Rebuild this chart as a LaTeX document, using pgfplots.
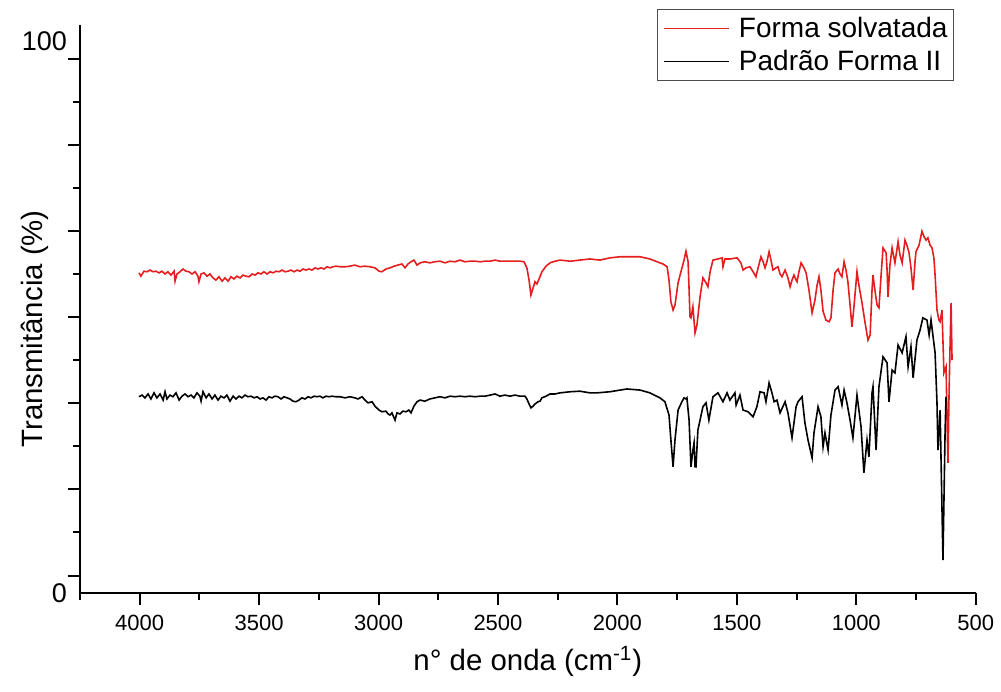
\documentclass[border=0pt]{standalone}
\usepackage{pgfplots}
\pgfplotsset{compat=1.18}
\usepackage{fontspec}
\setmainfont{Liberation Sans}
\definecolor{specred}{RGB}{228,30,30}
\begin{document}
\begin{tikzpicture}
\path[use as bounding box] (-40pt,-49pt) rectangle (460.5pt,296.5pt);
\begin{axis}[
 scale only axis, width=447.85pt, height=284pt,
 x dir=reverse, xmin=500, xmax=4250, ymin=0.67, ymax=102.92,
 axis x line*=bottom, axis y line*=left,
 axis line style={line width=1pt,-},
 tick align=outside,
 major tick length=6pt, minor tick length=3.5pt,
 tick style={black,line width=1pt},
 xtick={500,1000,...,4000},
 minor xtick={750,1250,...,4250},
 ytick={3.79,19.31,34.83,50.31,65.79,81.27,96.75},
 minor ytick={11.57,27.09,42.57,58.05,73.53,89.01},
 yticklabels={},
 extra y ticks={0.67,100},
 extra y tick labels={0,100\hspace{4pt}},
 extra y tick style={tick style={draw=none}, yticklabel style={font=\fontsize{13.5}{16}\selectfont, xshift=3pt}},
 xticklabel style={font=\fontsize{11}{13}\selectfont, yshift=-1.5pt},
 /pgf/number format/assume math mode=true,
 /pgf/number format/1000 sep={},
 xlabel={n° de onda (cm\textsuperscript{-1})},
 ylabel={Transmitância (\%)},
 xlabel style={at={(axis description cs:0.5,-0.1373)}, anchor=base, font=\fontsize{14.7}{17}\selectfont},
 ylabel style={at={(axis description cs:-0.0502,0.465)}, anchor=center, font=\fontsize{14.7}{17}\selectfont},
 legend style={at={(axis description cs:0.9758,1.0276)}, anchor=north east, draw=gray!60!black, line width=0.5pt,
   font=\fontsize{14}{16.8}\selectfont, inner xsep=3pt, inner ysep=3.5pt, row sep=5pt,
   nodes={inner sep=0pt}, column sep=4.6pt},
 legend cell align=left,
 legend image code/.code={\draw[#1, line width=0.6pt] (0pt,0pt) -- (32.5pt,0pt);},
]
\addplot[specred, line width=0.8pt] coordinates {
(4003,58.3)(3995,57.7)(3982,58.6)(3969,58.5)(3957,58.8)(3944,58.5)(3932,58.6)(3919,58.3)(3907,58.6)(3894,58.1)(3882,58.5)(3869,57.9)(3856,58.6)(3852,56.8)(3844,58.1)(3831,58.5)(3819,59.0)(3806,58.6)(3794,58.5)(3781,58.1)(3768,58.5)(3756,57.7)(3752,56.7)(3743,58.1)(3731,58.3)(3718,57.7)(3706,58.1)(3693,57.4)(3681,57.0)(3668,57.6)(3655,56.8)(3643,57.4)(3630,56.8)(3618,57.6)(3605,57.2)(3593,57.7)(3580,57.4)(3568,57.9)(3555,57.7)(3542,57.6)(3530,58.1)(3517,57.9)(3505,58.3)(3492,58.1)(3480,58.5)(3467,58.1)(3454,58.5)(3442,58.3)(3429,58.6)(3417,58.5)(3404,58.8)(3392,58.5)(3379,58.6)(3367,58.8)(3354,58.5)(3341,58.8)(3329,58.6)(3316,59.0)(3304,58.8)(3291,59.0)(3279,58.8)(3266,59.2)(3254,59.0)(3241,59.2)(3228,59.0)(3216,59.4)(3203,59.2)(3191,59.4)(3178,59.5)(3161,59.4)(3140,59.4)(3120,59.5)(3099,59.7)(3078,59.4)(3057,59.5)(3036,59.4)(3015,59.2)(2998,58.6)(2986,58.5)(2969,59.0)(2952,59.2)(2935,59.5)(2919,59.7)(2902,59.9)(2889,59.2)(2877,59.9)(2864,60.3)(2852,60.6)(2839,59.7)(2826,60.1)(2806,60.3)(2785,60.1)(2764,60.3)(2743,60.4)(2722,60.1)(2701,60.4)(2680,60.3)(2659,60.6)(2638,60.3)(2617,60.4)(2596,60.4)(2575,60.3)(2554,60.4)(2533,60.4)(2512,60.6)(2492,60.4)(2471,60.4)(2450,60.4)(2429,60.4)(2408,60.4)(2391,60.3)(2379,59.2)(2370,57.0)(2362,54.3)(2353,55.6)(2345,56.7)(2337,56.3)(2328,57.2)(2316,58.5)(2299,59.5)(2282,60.1)(2261,60.4)(2240,60.6)(2198,60.4)(2157,60.6)(2115,60.8)(2073,60.6)(2031,61.0)(1989,61.2)(1947,61.2)(1905,61.2)(1864,60.8)(1834,60.3)(1809,59.9)(1792,59.4)(1784,57.0)(1776,53.1)(1767,51.6)(1759,52.5)(1746,56.5)(1734,58.5)(1721,60.6)(1713,62.2)(1704,60.3)(1696,50.4)(1692,50.2)(1684,52.2)(1675,47.5)(1667,48.9)(1654,54.0)(1642,57.4)(1629,56.5)(1621,55.8)(1612,58.5)(1600,60.6)(1579,60.8)(1562,61.0)(1558,59.4)(1550,60.8)(1529,60.8)(1499,61.0)(1483,60.1)(1474,58.8)(1462,59.2)(1445,59.4)(1432,58.5)(1420,57.6)(1411,59.2)(1399,61.2)(1390,60.3)(1382,59.2)(1374,60.3)(1365,62.1)(1357,60.6)(1349,58.8)(1336,59.2)(1328,59.4)(1319,58.1)(1311,57.6)(1298,58.8)(1286,57.4)(1277,55.8)(1269,57.0)(1261,57.9)(1252,57.0)(1248,56.7)(1240,58.5)(1231,60.1)(1219,59.2)(1210,58.3)(1198,55.2)(1185,51.1)(1173,53.4)(1164,56.1)(1156,57.6)(1148,55.2)(1139,51.4)(1127,49.8)(1114,49.5)(1106,50.2)(1097,55.2)(1089,58.3)(1076,59.0)(1068,58.1)(1060,57.6)(1051,60.3)(1043,58.8)(1035,56.7)(1026,52.5)(1018,48.6)(1009,52.5)(997,58.5)(989,56.1)(976,52.9)(963,49.3)(951,46.2)(942,47.1)(934,55.2)(930,57.9)(922,55.2)(913,52.5)(905,52.0)(896,57.9)(888,62.8)(875,61.9)(871,58.8)(867,54.0)(859,59.7)(850,62.8)(838,60.1)(825,63.9)(817,61.5)(808,60.1)(796,64.2)(788,63.3)(779,61.9)(771,59.2)(762,55.2)(754,60.3)(750,62.1)(737,63.3)(725,65.8)(716,64.8)(708,64.2)(700,64.6)(691,63.3)(683,62.8)(675,61.0)(670,57.9)(662,51.6)(654,49.8)(649,49.5)(641,51.6)(633,40.3)(624,41.4)(620,31.8)(616,24.1)(612,35.4)(608,43.9)(603,52.9)(599,42.6)
};
\addlegendentry{Forma solvatada}
\addplot[black, line width=0.8pt] coordinates {
(4003,36.0)(3990,36.3)(3978,35.8)(3965,36.5)(3953,35.6)(3940,36.7)(3928,35.8)(3915,36.5)(3902,35.4)(3894,36.9)(3886,35.6)(3873,36.3)(3861,36.0)(3848,36.7)(3835,35.4)(3823,36.1)(3810,36.5)(3798,36.0)(3785,36.3)(3773,35.8)(3760,36.7)(3748,36.1)(3743,35.2)(3735,36.9)(3722,35.8)(3710,36.5)(3697,35.6)(3685,36.3)(3672,35.4)(3660,36.1)(3647,35.8)(3635,36.3)(3622,35.2)(3609,36.1)(3597,35.6)(3584,36.1)(3572,35.8)(3559,36.3)(3547,36.0)(3534,36.1)(3521,35.8)(3509,36.0)(3496,35.6)(3484,35.8)(3471,35.4)(3459,36.0)(3446,35.8)(3434,36.1)(3421,36.0)(3408,35.6)(3396,36.0)(3383,35.8)(3371,35.6)(3358,35.2)(3346,35.1)(3333,35.4)(3321,35.8)(3308,35.6)(3295,36.0)(3283,35.8)(3270,36.1)(3258,36.0)(3245,36.1)(3233,35.8)(3220,36.1)(3207,36.0)(3195,36.1)(3178,36.0)(3161,36.0)(3140,35.8)(3120,36.0)(3099,35.8)(3086,35.6)(3069,36.0)(3057,35.4)(3044,34.9)(3027,35.1)(3015,34.3)(2998,33.6)(2986,33.3)(2969,33.4)(2960,32.9)(2952,32.7)(2944,33.1)(2931,31.8)(2923,33.1)(2910,32.9)(2898,33.4)(2885,33.3)(2873,33.6)(2864,33.1)(2852,34.3)(2839,35.1)(2826,35.4)(2806,35.2)(2785,35.6)(2764,35.8)(2743,36.0)(2722,35.8)(2701,36.1)(2680,36.0)(2659,36.1)(2638,36.0)(2617,36.1)(2596,36.0)(2575,36.1)(2554,36.1)(2533,36.3)(2512,36.5)(2492,36.1)(2471,36.3)(2450,36.1)(2429,36.3)(2408,36.1)(2387,36.1)(2379,35.6)(2370,34.7)(2362,34.0)(2353,34.3)(2345,34.7)(2332,35.1)(2324,35.2)(2316,35.8)(2299,36.1)(2282,36.5)(2261,36.5)(2240,36.7)(2198,36.9)(2157,37.0)(2115,36.7)(2085,36.7)(2031,36.9)(1960,37.4)(1905,37.2)(1864,36.7)(1822,35.8)(1801,35.1)(1784,32.7)(1776,28.2)(1767,23.4)(1759,28.2)(1746,33.6)(1730,35.1)(1721,35.8)(1713,35.6)(1709,35.8)(1700,31.8)(1692,23.4)(1684,26.4)(1679,27.7)(1675,23.4)(1671,23.4)(1663,30.0)(1642,34.2)(1629,34.9)(1617,31.8)(1600,36.0)(1579,36.7)(1558,35.1)(1541,36.7)(1529,35.4)(1508,36.7)(1503,34.5)(1487,36.3)(1474,33.6)(1453,33.3)(1432,32.4)(1416,34.2)(1403,36.9)(1386,36.7)(1378,35.1)(1365,38.5)(1353,36.7)(1344,35.1)(1332,35.4)(1319,33.1)(1298,35.1)(1286,33.1)(1269,28.6)(1252,34.2)(1244,35.1)(1227,36.0)(1215,31.3)(1202,28.2)(1185,25.0)(1177,29.5)(1160,34.2)(1148,32.4)(1139,27.0)(1131,29.5)(1118,26.4)(1106,32.7)(1089,37.2)(1076,37.8)(1060,34.5)(1051,37.2)(1039,34.9)(1026,31.8)(1014,28.6)(997,36.3)(980,30.6)(968,22.3)(955,28.2)(947,25.2)(934,36.7)(930,37.8)(917,26.4)(905,37.8)(888,43.2)(871,42.1)(863,35.1)(850,40.8)(838,40.3)(825,45.3)(808,43.9)(792,46.8)(783,41.4)(771,45.0)(762,39.4)(746,46.2)(733,48.0)(721,50.2)(704,49.8)(695,47.1)(687,49.8)(670,43.9)(662,34.9)(658,26.4)(649,33.6)(637,6.6)(628,30.0)(624,36.0)
};
\addlegendentry{Padrão Forma II}
\end{axis}
\end{tikzpicture}
\end{document}
